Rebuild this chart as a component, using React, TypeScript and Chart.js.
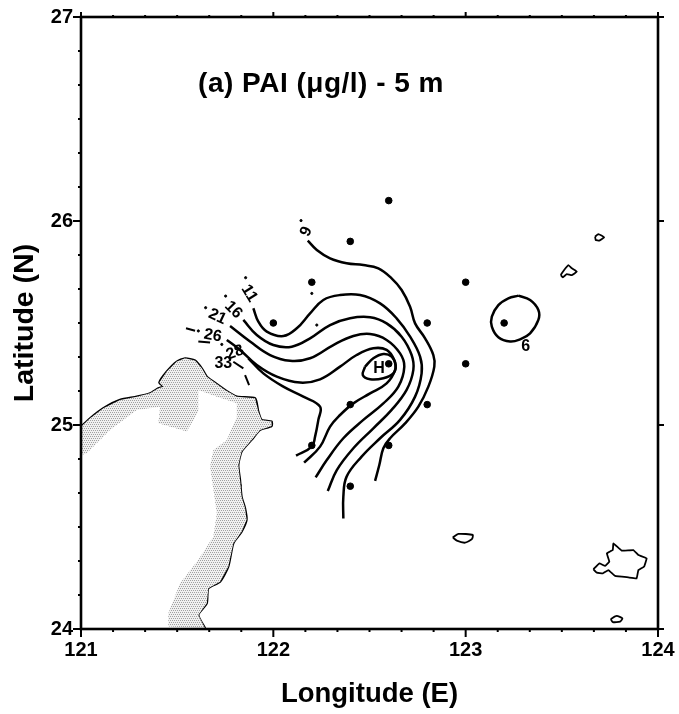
import React, { useEffect, useRef } from "react";
import { Chart, registerables } from "chart.js";

Chart.register(...registerables);

type P = [number, number];

const LON_LABELS = [121, 122, 123, 124];
const LAT_LABELS = [24, 25, 26, 27];

const contour6: P[] = [[122.179,25.904],[122.226,25.858],[122.295,25.817],[122.381,25.793],[122.468,25.784],[122.546,25.768],[122.615,25.719],[122.667,25.662],[122.711,25.580],[122.737,25.498],[122.789,25.425],[122.832,25.343],[122.837,25.286],[122.806,25.188],[122.754,25.090],[122.685,25.008],[122.607,24.935],[122.572,24.886],[122.551,24.804],[122.529,24.726]];
const contour11: P[] = [[121.896,25.572],[121.922,25.507],[121.966,25.458],[122.052,25.436],[122.122,25.474],[122.191,25.547],[122.260,25.613],[122.347,25.637],[122.451,25.637],[122.555,25.596],[122.641,25.523],[122.711,25.433],[122.763,25.335],[122.771,25.253],[122.737,25.139],[122.659,25.025],[122.555,24.935],[122.459,24.845],[122.381,24.747],[122.364,24.649],[122.364,24.542]];
const contour16: P[] = [[121.844,25.515],[121.914,25.441],[122.000,25.392],[122.096,25.384],[122.191,25.425],[122.295,25.490],[122.399,25.523],[122.503,25.528],[122.589,25.498],[122.667,25.433],[122.719,25.343],[122.728,25.270],[122.693,25.172],[122.615,25.074],[122.520,24.984],[122.416,24.886],[122.330,24.779],[122.283,24.676]];
const contour21: P[] = [[121.775,25.485],[121.879,25.409],[121.983,25.343],[122.087,25.315],[122.191,25.327],[122.312,25.392],[122.416,25.436],[122.503,25.446],[122.589,25.417],[122.659,25.351],[122.681,25.286],[122.650,25.188],[122.572,25.106],[122.468,25.025],[122.364,24.935],[122.278,24.828],[122.220,24.743]];
const contour26: P[] = [[121.758,25.417],[121.827,25.368],[121.914,25.294],[122.018,25.237],[122.139,25.208],[122.243,25.224],[122.347,25.286],[122.433,25.343],[122.520,25.376],[122.589,25.368],[122.628,25.319],[122.633,25.270],[122.589,25.204],[122.503,25.155],[122.416,25.106],[122.347,25.049],[122.295,24.992],[122.243,24.894],[122.160,24.815]];
const contour33: P[] = [[121.870,25.327],[121.948,25.253],[122.052,25.188],[122.156,25.139],[122.243,25.090],[122.234,25.025],[122.217,24.943],[122.200,24.894],[122.118,24.850]];
const contourH: P[] = [[122.477,25.286],[122.520,25.327],[122.572,25.348],[122.615,25.335],[122.636,25.294],[122.624,25.253],[122.572,25.229],[122.503,25.224],[122.465,25.245],[122.477,25.286]];
const contourRing: P[] = [[123.274,25.634],[123.335,25.613],[123.378,25.564],[123.378,25.515],[123.335,25.449],[123.283,25.420],[123.231,25.409],[123.170,25.430],[123.136,25.482],[123.136,25.531],[123.170,25.588],[123.222,25.621],[123.274,25.634]];

const islandA: P[] = [[123.673,25.923],[123.690,25.936],[123.720,25.920],[123.695,25.904],[123.676,25.907],[123.673,25.923]];
const islandB: P[] = [[123.494,25.735],[123.512,25.760],[123.534,25.784],[123.552,25.768],[123.578,25.752],[123.552,25.735],[123.526,25.740],[123.505,25.724],[123.494,25.735]];
const islandC: P[] = [[122.933,24.449],[122.962,24.466],[123.037,24.461],[123.032,24.440],[122.997,24.423],[122.954,24.433],[122.933,24.449]];
const islandD: P[] = [[123.664,24.293],[123.695,24.322],[123.725,24.309],[123.747,24.330],[123.734,24.371],[123.765,24.387],[123.768,24.420],[123.811,24.384],[123.872,24.387],[123.898,24.363],[123.941,24.346],[123.928,24.306],[123.898,24.289],[123.889,24.248],[123.846,24.253],[123.777,24.260],[123.742,24.289],[123.713,24.273],[123.682,24.276],[123.664,24.293]];
const islandE: P[] = [[123.754,24.049],[123.785,24.064],[123.815,24.052],[123.803,24.036],[123.765,24.034],[123.754,24.049]];

const taiwanCoast: P[] = [[121.004,24.995],[121.047,25.033],[121.116,25.082],[121.203,25.123],[121.290,25.139],[121.359,25.156],[121.402,25.180],[121.428,25.188],[121.407,25.208],[121.446,25.262],[121.498,25.311],[121.541,25.327],[121.593,25.316],[121.628,25.278],[121.654,25.237],[121.688,25.213],[121.749,25.172],[121.810,25.139],[121.905,25.131],[121.922,25.066],[121.939,25.025],[121.991,25.017],[121.991,24.995],[121.931,24.976],[121.887,24.927],[121.835,24.870],[121.818,24.804],[121.827,24.731],[121.835,24.649],[121.853,24.592],[121.861,24.535],[121.835,24.477],[121.792,24.420],[121.766,24.306],[121.723,24.232],[121.662,24.200],[121.654,24.126],[121.610,24.069],[121.645,24.004]];
const shadeInner: P[] = [[121.454,24.012],[121.454,24.077],[121.515,24.224],[121.610,24.339],[121.688,24.453],[121.706,24.567],[121.671,24.796],[121.688,24.878],[121.758,24.927],[121.810,25.041],[121.810,25.107],[121.706,25.139],[121.610,25.172],[121.610,25.066],[121.550,24.968],[121.402,25.008],[121.411,25.090],[121.290,25.074],[121.151,24.976],[121.030,24.861],[121.004,24.853]];
const river1: P[] = [[121.411,25.180],[121.446,25.156],[121.454,25.115],[121.498,25.098],[121.524,25.082],[121.558,25.090],[121.576,25.061]];
const river2: P[] = [[121.524,25.082],[121.498,25.041],[121.454,25.033],[121.489,25.025],[121.524,25.000]];
const coastBar1: P[] = [[121.758,24.711],[121.835,24.703]];
const coastBar2: P[] = [[121.680,24.335],[121.766,24.306]];
const dash1: P[] = [[121.546,25.474],[121.593,25.462]];
const dash2: P[] = [[121.610,25.409],[121.671,25.404]];
const dash3: P[] = [[121.792,25.310],[121.844,25.278]];
const dash4: P[] = [[121.853,25.245],[121.874,25.196]];

const stations: P[] = [[122.6,26.1],[122.4,25.9],[122.2,25.7],[122.0,25.5],[122.8,25.5],[123.0,25.7],[123.2,25.5],[123.0,25.3],[122.6,25.3],[122.4,25.1],[122.8,25.1],[122.2,24.9],[122.6,24.9],[122.4,24.7]];
const smallDots: P[] = [[122.144,26.002],[121.856,25.722],[121.752,25.632],[121.648,25.575],[121.610,25.461],[121.732,25.395],[122.200,25.645],[122.226,25.490]];

const contourLabels: { text: string; at: P; angle: number }[] = [
  { text: "6", at: [122.161, 25.953], angle: 115 },
  { text: "11", at: [121.875, 25.645], angle: 58 },
  { text: "16", at: [121.792, 25.564], angle: 45 },
  { text: "21", at: [121.709, 25.531], angle: 25 },
  { text: "26", at: [121.685, 25.438], angle: 10 },
  { text: "28", at: [121.801, 25.355], angle: -20 },
  { text: "33", at: [121.740, 25.302], angle: 0 },
  { text: "H", at: [122.550, 25.275], angle: 0 },
  { text: "6", at: [123.312, 25.384], angle: 0 },
];
const TITLE = "(a) PAI (\u03bcg/l) - 5 m";
const TITLE_AT: P = [122.248, 26.67];

const FONT = "'Liberation Sans', Arial, sans-serif";
const xy = (a: P[]) => a.map(([x, y]) => ({ x, y }));

const line = (data: P[], width: number, tension: number) => ({
  data: xy(data),
  showLine: true,
  borderColor: "#000",
  borderWidth: width,
  tension,
  pointRadius: 0,
  fill: false,
});

function dotPattern(ctx: CanvasRenderingContext2D) {
  const c = document.createElement("canvas");
  c.width = 4;
  c.height = 4;
  const g = c.getContext("2d")!;
  g.fillStyle = "#f0f0f0";
  g.fillRect(0, 0, 4, 4);
  g.fillStyle = "#a0a0a0";
  g.fillRect(0, 0, 1, 1);
  g.fillRect(2, 0, 1, 1);
  g.fillRect(1, 2, 1, 1);
  g.fillRect(3, 2, 1, 1);
  return ctx.createPattern(c, "repeat")!;
}

const framePlugin = {
  id: "frame",
  afterDatasetsDraw(chart: any) {
    const { ctx, scales, chartArea: a } = chart;
    const xs = scales.x;
    const ys = scales.y;
    ctx.save();
    ctx.strokeStyle = "#000";
    ctx.lineWidth = 2;
    for (let i = 0; i <= 18; i++) {
      const major = i % 6 === 0;
      const px = xs.getPixelForValue(121 + i / 6);
      const py = ys.getPixelForValue(24 + i / 6);
      const len = major ? 8 : 3;
      ctx.beginPath();
      ctx.moveTo(px, a.bottom);
      ctx.lineTo(px, a.bottom + len);
      ctx.moveTo(px, a.top);
      ctx.lineTo(px, a.top - (major ? 5 : 2));
      ctx.moveTo(a.left, py);
      ctx.lineTo(a.left - len, py);
      ctx.moveTo(a.right, py);
      ctx.lineTo(a.right + (major ? 6 : 1), py);
      ctx.stroke();
    }
    ctx.lineWidth = 2.6;
    ctx.strokeRect(a.left, a.top, a.right - a.left, a.bottom - a.top);

    ctx.fillStyle = "#000";
    ctx.textAlign = "center";
    ctx.textBaseline = "middle";
    for (const l of contourLabels) {
      ctx.save();
      ctx.translate(xs.getPixelForValue(l.at[0]), ys.getPixelForValue(l.at[1]));
      ctx.rotate((l.angle * Math.PI) / 180);
      ctx.font = `bold 16px ${FONT}`;
      ctx.fillText(l.text, 0, 0);
      ctx.restore();
    }
    ctx.font = `bold 28px ${FONT}`;
    (ctx as any).letterSpacing = "0.5px";
    ctx.fillText(TITLE, xs.getPixelForValue(TITLE_AT[0]), ys.getPixelForValue(TITLE_AT[1]));
    (ctx as any).letterSpacing = "0px";
    ctx.restore();
  },
};

export default function App() {
  const ref = useRef<HTMLCanvasElement>(null);
  useEffect(() => {
    const canvas = ref.current!;
    const ctx = canvas.getContext("2d")!;
    const chart = new Chart(ctx, {
      type: "scatter",
      data: {
        datasets: [
          {
            data: xy([...taiwanCoast, ...shadeInner]),
            showLine: true,
            borderWidth: 0,
            borderColor: "rgba(0,0,0,0)",
            backgroundColor: dotPattern(ctx),
            fill: "shape",
            pointRadius: 0,
            tension: 0,
          },
          line(taiwanCoast, 2.2, 0.2),
          line(river1, 2.5, 0),
          line(river2, 2.5, 0),
          line(coastBar1, 2, 0),
          line(coastBar2, 2, 0),
          line(contour6, 2.5, 0.4),
          line(contour11, 2.5, 0.4),
          line(contour16, 2.5, 0.4),
          line(contour21, 2.5, 0.4),
          line(contour26, 2.5, 0.4),
          line(contour33, 2.5, 0.4),
          line(contourH, 2.5, 0.4),
          line(contourRing, 2.5, 0.4),
          line(islandA, 1.8, 0.1),
          line(islandB, 1.8, 0.1),
          line(islandC, 1.8, 0.2),
          line(islandD, 1.8, 0.05),
          line(islandE, 1.8, 0.2),
          line(dash1, 2, 0),
          line(dash2, 2, 0),
          line(dash3, 2, 0),
          line(dash4, 2, 0),
          { data: xy(stations), backgroundColor: "#000", borderColor: "#000", pointRadius: 3.3, showLine: false },
          { data: xy(smallDots), backgroundColor: "#000", borderColor: "#000", pointRadius: 1.1, showLine: false },
        ] as any,
      },
      options: {
        responsive: false,
        animation: false,
        layout: { padding: { top: 17, right: 21, left: 0, bottom: 0 } },
        plugins: { legend: { display: false }, tooltip: { enabled: false } },
        scales: {
          x: {
            type: "linear",
            min: 121,
            max: 124,
            afterBuildTicks: (s: any) => { s.ticks = LON_LABELS.map((value) => ({ value })); },
            afterFit: (s: any) => { s.height = 85; s.paddingRight = 0; s.paddingLeft = 0; },
            grid: { display: false, drawTicks: false },
            border: { display: false },
            ticks: { padding: 9, color: "#000", maxRotation: 0, autoSkip: false, font: { family: FONT, size: 20, weight: "bold" } },
            title: { display: true, text: "Longitude (E)", color: "#000", padding: { top: 0, bottom: 3 }, font: { family: FONT, size: 27.5, weight: "bold" } },
          },
          y: {
            type: "linear",
            min: 24,
            max: 27,
            afterBuildTicks: (s: any) => { s.ticks = LAT_LABELS.map((value) => ({ value })); },
            afterFit: (s: any) => { s.width = 81; s.paddingTop = 0; s.paddingBottom = 0; },
            grid: { display: false, drawTicks: false },
            border: { display: false },
            ticks: { padding: 8, color: "#000", autoSkip: false, font: { family: FONT, size: 20, weight: "bold" } },
            title: { display: true, text: "Latitude (N)", color: "#000", padding: { top: 8, bottom: 0 }, font: { family: FONT, size: 28.5, weight: "bold" } },
          },
        },
      },
      plugins: [framePlugin],
    } as any);
    return () => chart.destroy();
  }, []);
  return (
    <div style={{ position: "absolute", left: 0, top: 0, width: 679, height: 714, background: "#fff" }}>
      <canvas ref={ref} width={679} height={714} style={{ display: "block" }} />
    </div>
  );
}
